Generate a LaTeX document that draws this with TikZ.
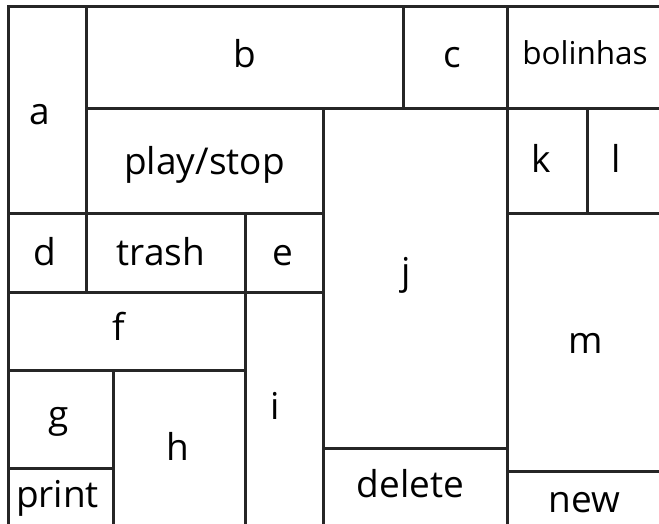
\documentclass[tikz,border=0pt]{standalone}
\usepackage{fontspec}
\setmainfont{Open Sans}

\begin{document}
\begin{tikzpicture}[x=1pt, y=-1pt,
    wall/.style={draw=black!85, line width=3pt, line cap=rect},
    cell/.style={anchor=base, inner sep=0pt, font=\fontsize{37}{40}\selectfont},
    smallcell/.style={cell, font=\fontsize{31.5}{34}\selectfont}
]
\useasboundingbox (0,0) rectangle (659,524);

% horizontal walls
\draw[wall] (8,7) -- (659,7);
\draw[wall] (86,109) -- (659,109);
\draw[wall] (8,213) -- (323,213);
\draw[wall] (507,213) -- (659,213);
\draw[wall] (8,292) -- (323,292);
\draw[wall] (8,370) -- (245,370);
\draw[wall] (8,468) -- (113,468);
\draw[wall] (323,448) -- (507,448);
\draw[wall] (507,471) -- (659,471);

% vertical walls
\draw[wall] (8,7) -- (8,524);
\draw[wall] (86,7) -- (86,292);
\draw[wall] (245,213) -- (245,524);
\draw[wall] (323,109) -- (323,524);
\draw[wall] (403,7) -- (403,109);
\draw[wall] (507,7) -- (507,524);
\draw[wall] (587,109) -- (587,213);
\draw[wall] (113,370) -- (113,524);

\node[cell] (a) at (40,125) {a};
\node[cell] (b) at (245,68) {b};
\node[cell] (c) at (452,68) {c};
\node[smallcell] (bolinhas) at (585,65) {bolinhas};
\node[cell] (playstop) at (204.5,175) {play/stop};
\node[cell] (k) at (541,172) {k};
\node[cell] (l) at (616,172) {l};
\node[cell] (d) at (45,265) {d};
\node[cell] (trash) at (161,265) {trash};
\node[cell] (e) at (282.5,265) {e};
\node[cell] (j) at (406,284) {j};
\node[cell] (f) at (119,340) {f};
\node[cell] (m) at (585.5,353) {m};
\node[cell] (g) at (59,427) {g};
\node[cell] (h) at (177.5,460) {h};
\node[cell] (i) at (275,419) {i};
\node[cell] (print) at (57.5,507) {print};
\node[cell] (delete) at (410.5,497) {delete};
\node[cell] (new) at (584.5,512) {new};

\end{tikzpicture}
\end{document}
